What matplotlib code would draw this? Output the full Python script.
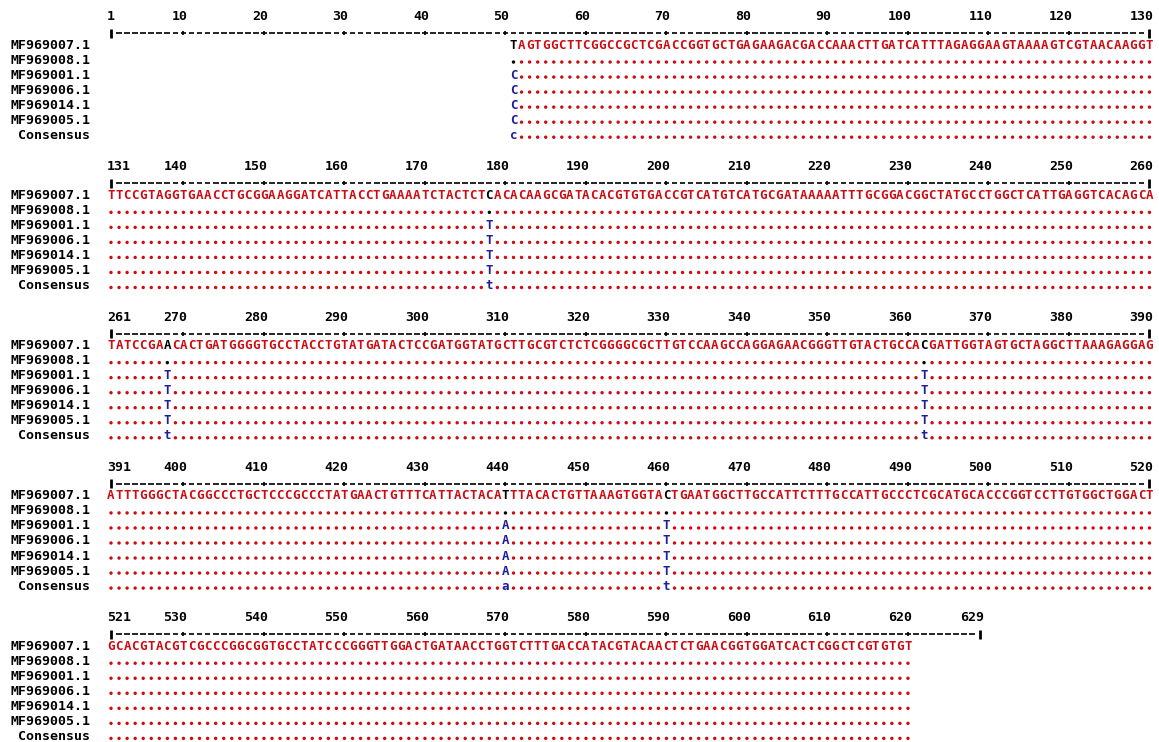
import matplotlib.pyplot as plt
import numpy as np

plt.rcParams["font.family"] = "DejaVu Sans Mono"
plt.rcParams["font.weight"] = "bold"

seq_names = ["MF969007.1", "MF969008.1", "MF969001.1", "MF969006.1",
             "MF969014.1", "MF969005.1", "Consensus"]

# first sequence (MF969007.1), alignment positions 51-620
ref_start = 51
aln_length = 629
block_size = 130
ref_seq = (
    # 51-130
    "TAGTGGCTTCGGCCGCTCGACCGGTGCTGAGAAGACGACCAAACTTGATCATTTAGAGGAAGTAAAAGTCGTAACAAGGT"
    # 131-260
    "TTCCGTAGGTGAACCTGCGGAAGGATCATTACCTGAAAATCTACTCTCACACAAGCGATACACGT"
    "GTGACCGTCATGTCATGCGATAAAAATTTGCGGACGGCTATGCCTGGCTCATTGAGGTCACAGCA"
    # 261-390
    "TATCCGAACACTGATGGGGTGCCTACCTGTATGATACTCCGATGGTATGCTTGCGTCTCTCGGGG"
    "CGCTTGTCCAAGCCAGGAGAACGGGTTGTACTGCCACGATTGGTAGTGCTAGGCTTAAAGAGGAG"
    # 391-520
    "ATTTGGGCTACGGCCCTGCTCCCGCCCTATGAACTGTTTCATTACTACATTTACACTGTTAAAGT"
    "GGTACTGAATGGCTTGCCATTCTTTGCCATTGCCCTCGCATGCACCCGGTCCTTGTGGCTGGACT"
    # 521-620
    "GCACGTACGTCGCCCGGCGGTGCCTATCCCGGGTTGGACTGATAACCTGGTC"
    "TTTGACCATACGTACAACTCTGAACGGTGGATCACTCGGCTCGTGTGT"
)
assert len(ref_seq) == 570
ref_end = ref_start + len(ref_seq) - 1

# variable columns and what the other rows show there ("." = same as first)
var_positions = [51, 178, 268, 362, 440, 460]
var_mf969008 = [".", ".", ".", ".", ".", "."]
var_mf969001 = ["C", "T", "T", "T", "A", "T"]
var_mf969006 = ["C", "T", "T", "T", "A", "T"]
var_mf969014 = ["C", "T", "T", "T", "A", "T"]
var_mf969005 = ["C", "T", "T", "T", "A", "T"]
var_consensus = ["c", "t", "t", "t", "a", "t"]
other_rows = [var_mf969008, var_mf969001, var_mf969006,
              var_mf969014, var_mf969005, var_consensus]

RED = "#cc0c12"
BLUE = "#1e1e9a"
n_blocks = (aln_length - 1) // block_size + 1


def place(pos):
    b = (pos - 1) // block_size
    return b, pos - block_size * b


fig = plt.figure(figsize=(11.59, 7.42), dpi=100)
ax = fig.add_axes([0, 0, 1, 1])
# 1 column = 8.05 px, 1 text line = 15.03 px
ax.set_xlim(1 - 111 / 8.05, 1 + (1159 - 111) / 8.05)
ax.set_ylim((742 - 44) / 15.03, -44 / 15.03)
ax.axis("off")

# row names
for b in range(n_blocks):
    for r, name in enumerate(seq_names):
        ax.text(-1.6, 10 * b + r + 0.3, name, ha="right", va="baseline",
                fontsize=9.5, color="black")

# ruler and numbers
for b in range(n_blocks):
    first = block_size * b + 1
    last = min(block_size * (b + 1), aln_length)
    y = 10 * b - 0.73
    cols = np.arange(1, last - first + 2)
    inner = cols[1:-1]
    ax.hlines(np.full(len(inner), y), inner - 0.36, inner + 0.36,
              color="black", lw=1.2)
    tens = [c for c in inner if (first + c - 1) % 10 == 0]
    ax.vlines(tens, y - 0.13, y + 0.13, color="black", lw=1.2)
    ax.vlines([cols[0], cols[-1]], y - 0.3, y + 0.3, color="black", lw=2)
    ty = 10 * b - 1.6
    ax.text(0.5, ty, str(first), ha="left", va="baseline", fontsize=9.5)
    for c in tens:
        ax.text(c + 0.5, ty, str(first + c - 1), ha="right", va="baseline",
                fontsize=9.5)
    ax.text(cols[-1] + 0.5, ty, str(last), ha="right", va="baseline",
            fontsize=9.5)

# first sequence
for i, ch in enumerate(ref_seq):
    pos = ref_start + i
    b, c = place(pos)
    color = "black" if pos in var_positions else RED
    ax.text(c, 10 * b + 0.3, ch, ha="center", va="baseline", fontsize=9,
            color=color)

# other sequences and consensus
for r, vals in enumerate(other_rows, start=1):
    var_map = dict(zip(var_positions, vals))
    dx, dy, dc = [], [], []
    for pos in range(ref_start, ref_end + 1):
        b, c = place(pos)
        ch = var_map.get(pos, ".")
        if ch == ".":
            dx.append(c)
            dy.append(10 * b + r + 0.2)
            dc.append("black" if pos in var_map else RED)
        else:
            ax.text(c, 10 * b + r + 0.3, ch, ha="center", va="baseline",
                    fontsize=9, color=BLUE)
    ax.scatter(dx, dy, s=6, c=dc, marker="o", linewidths=0)

fig.savefig("out.png", dpi=100)
